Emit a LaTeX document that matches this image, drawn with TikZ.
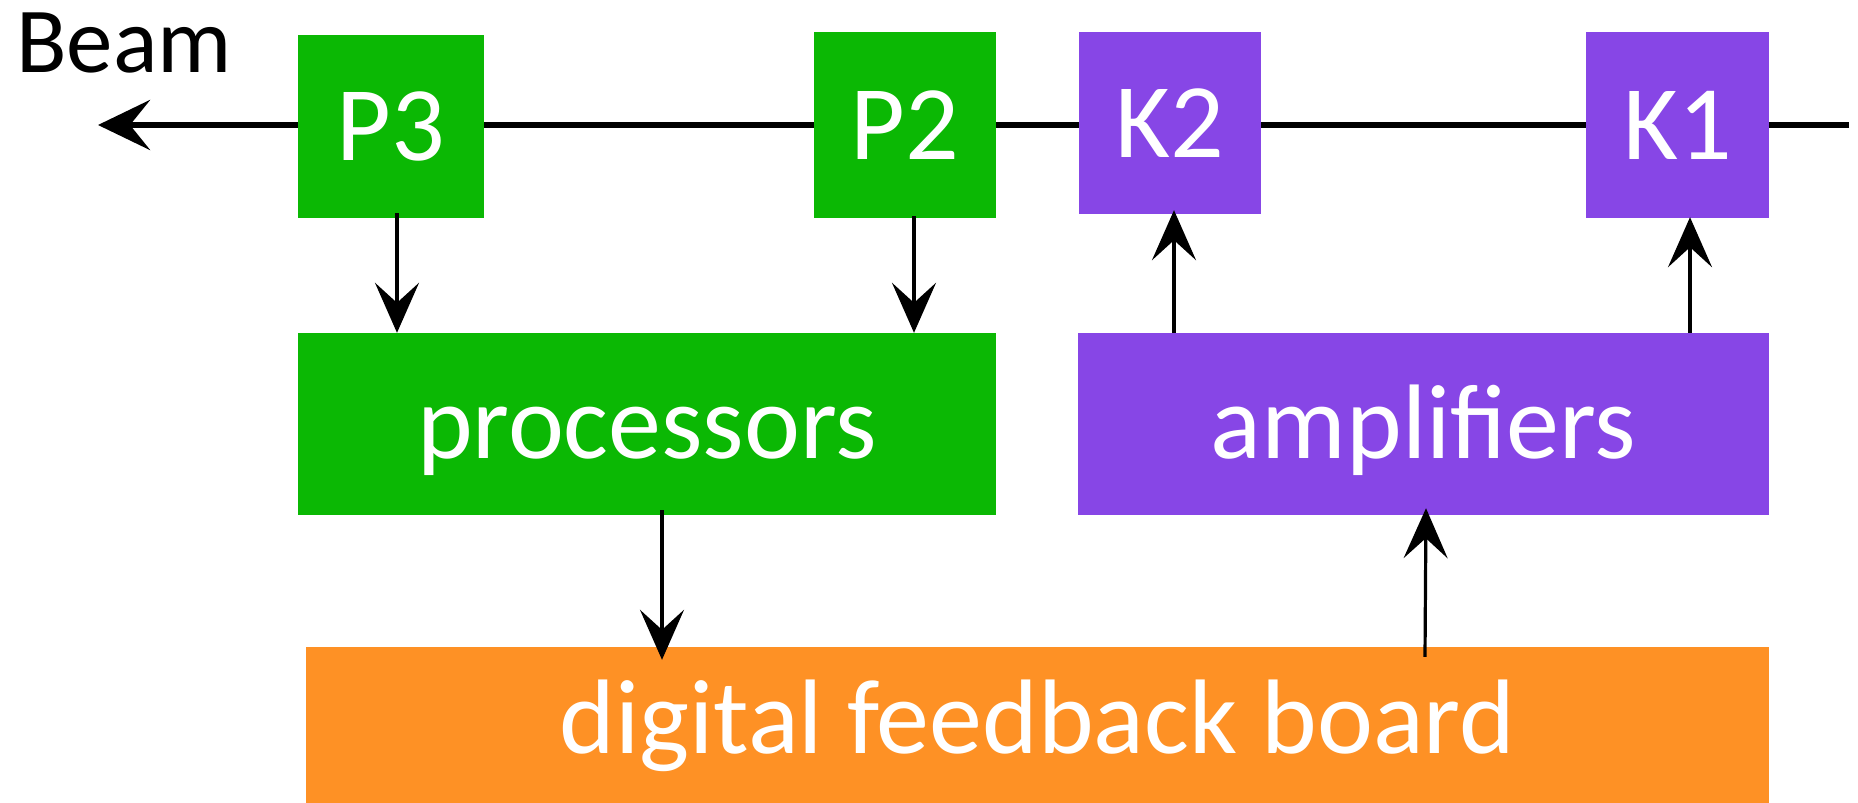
\documentclass[tikz,border=0pt]{standalone}
\usepackage{fontspec}
\setmainfont{Carlito}
\usetikzlibrary{arrows.meta}
\definecolor{pgreen}{RGB}{11,184,4}
\definecolor{kpurple}{RGB}{135,70,230}
\definecolor{borange}{RGB}{254,145,37}
\tikzset{
  box/.style={draw=none, inner sep=0pt, text=white, font=\fontsize{106}{106}\selectfont, text height=68pt, text depth=0pt, anchor=center},
  pbox/.style={box, fill=pgreen},
  kbox/.style={box, fill=kpurple},
  obox/.style={box, fill=borange},
  tip/.style={-{Stealth[length=50pt,width=44pt,inset=20pt]}},
  sig/.style={tip, line width=3.2pt},
  beamline/.style={-{Stealth[length=52pt,width=50pt,inset=20pt]}, line width=6.5pt},
}
\begin{document}
\begin{tikzpicture}[x=1pt,y=-1pt]
\useasboundingbox (0,0) rectangle (1858,803);
\fill[white] (0,0) rectangle (1858,803);
% beam
\coordinate (beamR) at (1849,125);
\coordinate (beamL) at (98,125);
\draw[beamline] (beamR) -- (beamL);
\node[anchor=base west, font=\fontsize{93}{93}\selectfont, inner sep=0pt] (beam) at (16,72) {Beam};
% pickups and kickers
\node[pbox, minimum width=186pt, minimum height=183pt] (P3) at (391,126.5) {P3};
\node[pbox, minimum width=182pt, minimum height=186pt] (P2) at (905,125) {P2};
\node[kbox, minimum width=182pt, minimum height=182pt] (K2) at (1170,123) {K2};
\node[kbox, minimum width=183pt, minimum height=186pt] (K1) at (1677.5,125) {K1};
% processing chain
\node[pbox, minimum width=698pt, minimum height=182pt] (proc) at (647,424) {processors};
\node[kbox, minimum width=691pt, minimum height=182pt] (amp) at (1423.5,424) {amplifiers};
\node[obox, minimum width=1463pt, minimum height=156pt, text depth=12pt] (dfb) at (1037.5,725) {digital feedback board};
% connectors
\draw[sig] ([xshift=6pt,yshift=5pt]P3.south) -- ([xshift=-250pt]proc.north);
\draw[sig] ([xshift=9pt,yshift=2pt]P2.south) -- ([xshift=267pt]proc.north);
\draw[sig] ([xshift=-249.5pt]amp.north) -- ([xshift=4pt,yshift=4pt]K2.south);
\draw[sig] ([xshift=266.5pt]amp.north) -- ([xshift=12.5pt,yshift=1pt]K1.south);
\draw[sig] ([xshift=15pt,yshift=5pt]proc.south) -- ([xshift=-375.5pt,yshift=-13pt]dfb.north);
\draw[sig] ([xshift=387.5pt,yshift=-10pt]dfb.north) -- ([xshift=2.5pt,yshift=7pt]amp.south);
\end{tikzpicture}
\end{document}
